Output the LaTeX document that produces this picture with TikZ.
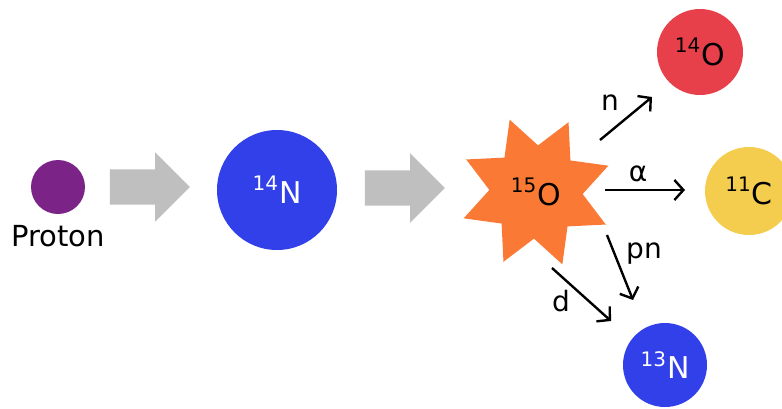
\documentclass[tikz,border=0pt]{standalone}
\usepackage{fontspec}
\setmainfont{DejaVu Sans}
\usetikzlibrary{shapes.geometric,shapes.arrows,arrows.meta}
\definecolor{cpurple}{HTML}{7B2387}
\definecolor{cblue}{HTML}{3140E8}
\definecolor{cred}{HTML}{E8404A}
\definecolor{cyellow}{HTML}{F4CD4F}
\definecolor{corange}{HTML}{FA7A35}
\definecolor{cgray}{HTML}{BFBFBF}
\newcommand{\iso}[2]{\raisebox{0.42em}{\fontsize{20}{20}\selectfont #1}\kern1pt#2}
\begin{document}
\begin{tikzpicture}[x=1pt,y=-1pt,
  nucleus/.style={circle,draw=none,inner sep=0pt,font=\fontsize{30}{30}\selectfont},
  bigarrow/.style={single arrow,fill=cgray,draw=none,minimum height=80pt,
    inner xsep=0pt,inner ysep=17.5pt,text height=0pt,text depth=0pt,
    single arrow head extend=17pt,single arrow tip angle=90},
  decay/.style={line width=2.4pt,-{Straight Barb[length=9pt,width=20pt,line width=2.4pt]}},
  lbl/.style={font=\fontsize{28}{28}\selectfont,inner sep=0pt}]
\useasboundingbox (0,0) rectangle (782,408);
\fill[white] (0,0) rectangle (782,408);
\node[nucleus,fill=cpurple,minimum size=54pt] (proton) at (58,187) {};
\node[font=\fontsize{29}{29}\selectfont,inner sep=0pt] (protonlbl) at (58,236) {Proton};
\node[bigarrow] (arr1) at (141,187) {};
\node[nucleus,fill=cblue,minimum size=120pt,text=white] (n14) at (277,190) {\iso{14}{N}};
\node[bigarrow] (arr2) at (396,188) {};
\node[star,star points=8,star point ratio=1.65,minimum size=154pt,fill=corange,
  shape border rotate=20,inner sep=0pt,font=\fontsize{30}{30}\selectfont] (o15) at (536,192) {\iso{15}{O}};
\node[nucleus,fill=cred,minimum size=86pt] (o14) at (700,52) {\iso{14}{O}};
\node[nucleus,fill=cyellow,minimum size=88pt] (c11) at (749,191) {\iso{11}{C}};
\node[nucleus,fill=cblue,minimum size=84pt,text=white] (n13) at (665,365) {\iso{13}{N}};
\coordinate (nS) at (600,140); \coordinate (nE) at (652,97);
\coordinate (aS) at (605,190); \coordinate (aE) at (685,190);
\coordinate (pS) at (607,235); \coordinate (pE) at (633,300);
\coordinate (dS) at (552,268); \coordinate (dE) at (611,321);
\draw[decay] (nS) -- (nE);
\draw[decay] (aS) -- (aE);
\draw[decay] (pS) -- (pE);
\draw[decay] (dS) -- (dE);
\node[lbl] (ln) at (610,103) {n};
\node[lbl] (la) at (638,174) {α};
\node[lbl] (lpn) at (644,254) {pn};
\node[lbl] (ld) at (561,301) {d};
\end{tikzpicture}
\end{document}
